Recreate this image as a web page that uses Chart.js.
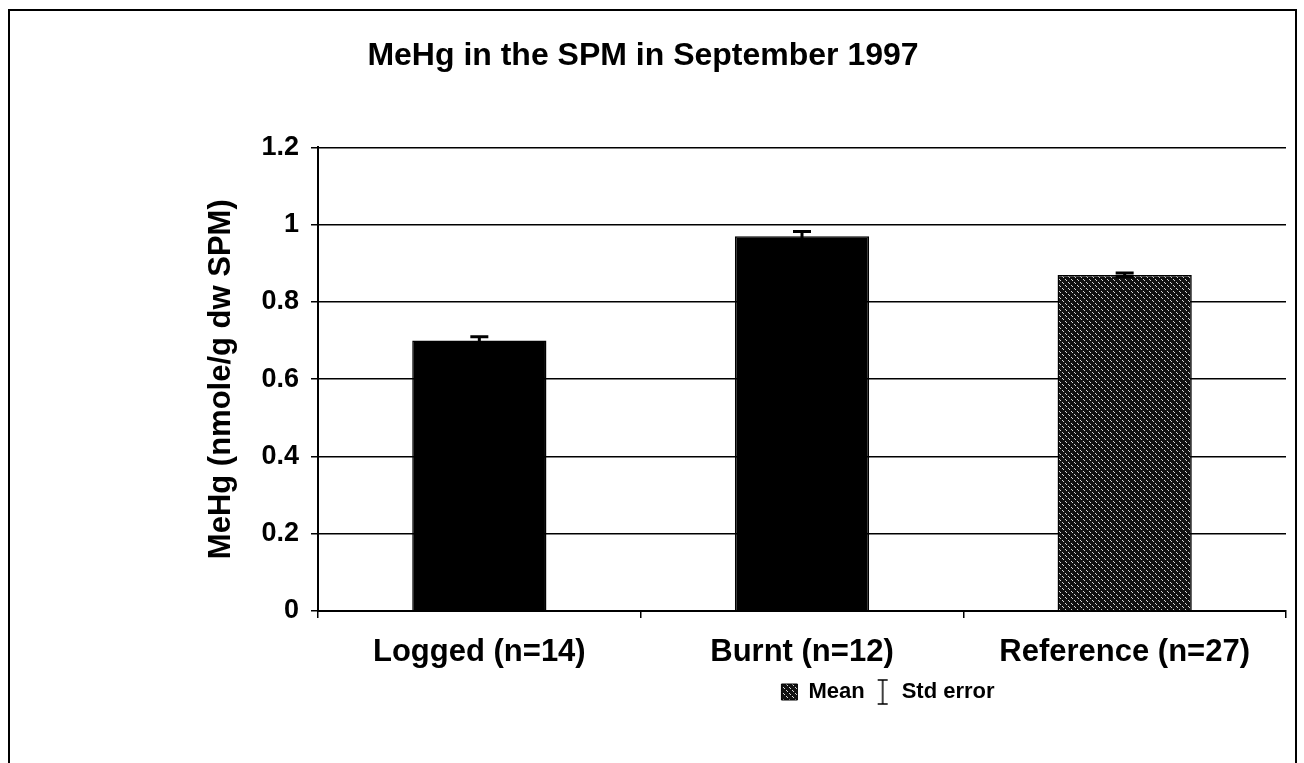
<!DOCTYPE html>
<html>
<head>
<meta charset="utf-8">
<script src="https://cdn.jsdelivr.net/npm/chart.js@4.4.1/dist/chart.umd.min.js"></script>
<style>
  html, body { margin: 0; padding: 0; background: #fff; }
  #wrap { width: 1304px; height: 763px; }
</style>
</head>
<body>
<div id="wrap"><canvas id="myChart" width="1304" height="763"></canvas></div>
<script>
/*==== data ====*/
const categories = ['Logged (n=14)', 'Burnt (n=12)', 'Reference (n=27)'];
const meanValues = [0.70, 0.97, 0.87];
const stdErrors = [0.010, 0.012, 0.005];
const yTicks = [0, 0.2, 0.4, 0.6, 0.8, 1, 1.2];

const FONT = "'Liberation Sans', Arial, sans-serif";

// stippled fill for the reference bar
function makeStipple() {
    const c = document.createElement('canvas');
    c.width = 6; c.height = 6;
    const g = c.getContext('2d');
    g.fillStyle = '#111';
    g.fillRect(0, 0, 6, 6);
    g.fillStyle = '#d8d8d8';
    g.fillRect(0, 0, 1, 1);
    g.fillRect(1, 1, 1, 1);
    g.fillRect(3, 3, 1, 1);
    g.fillRect(4, 4, 1, 1);
    return document.getElementById('myChart').getContext('2d').createPattern(c, 'repeat');
}
const stipple = makeStipple();

// little I-beam icon for the "Std error" legend entry
function makeIbeam() {
    const c = document.createElement('canvas');
    c.width = 12; c.height = 26;
    const g = c.getContext('2d');
    g.strokeStyle = '#000';
    g.lineWidth = 1.5;
    g.beginPath();
    g.moveTo(6, 1); g.lineTo(6, 25);
    g.moveTo(1, 1); g.lineTo(11, 1);
    g.moveTo(1, 25); g.lineTo(11, 25);
    g.stroke();
    return c;
}
const ibeam = makeIbeam();

/*==== plugins ====*/
const errorBars = {
    id: 'errorBars',
    afterDatasetsDraw(chart) {
        const ctx = chart.ctx;
        const y = chart.scales.y;
        const meta = chart.getDatasetMeta(0);
        ctx.save();
        ctx.strokeStyle = '#000';
        ctx.lineWidth = 3;
        meta.data.forEach((bar, i) => {
            const top = y.getPixelForValue(meanValues[i] + stdErrors[i]);
            const bot = y.getPixelForValue(meanValues[i] - stdErrors[i]);
            ctx.beginPath();
            ctx.moveTo(bar.x, top); ctx.lineTo(bar.x, bot);
            ctx.moveTo(bar.x - 9, top); ctx.lineTo(bar.x + 9, top);
            ctx.moveTo(bar.x - 9, bot); ctx.lineTo(bar.x + 9, bot);
            ctx.stroke();
        });
        ctx.restore();
    }
};

const frame = {
    id: 'frame',
    beforeDraw(chart) {
        const ctx = chart.ctx;
        ctx.save();
        ctx.fillStyle = '#fff';
        ctx.fillRect(0, 0, chart.width, chart.height);
        ctx.strokeStyle = '#000';
        ctx.lineWidth = 2;
        ctx.strokeRect(9, 10, 1287, 770);
        ctx.restore();
    }
};

// the legend sits under the right part of the plot, not the page centre
const legendShift = {
    id: 'legendShift',
    afterLayout(chart) {
        const lg = chart.legend;
        if (lg) { lg.left += 245; lg.right += 245; }
    }
};

/*==== config ====*/
const config = {
    type: 'bar',
    data: {
        labels: categories,
        datasets: [{
            label: 'Mean',
            data: meanValues,
            backgroundColor: ['#000', '#000', stipple],
            borderColor: '#000',
            borderWidth: 1.5,
            categoryPercentage: 1,
            barPercentage: 0.416
        }]
    },
    options: {
        responsive: false,
        animation: false,
        layout: { padding: { left: 0, right: 18, top: 0, bottom: 50 } },
        plugins: {
            title: {
                display: true,
                text: 'MeHg in the SPM in September 1997',
                color: '#000',
                font: { family: FONT, size: 32, weight: 'bold' },
                padding: { top: 37, bottom: 72 }
            },
            legend: {
                position: 'bottom',
                align: 'center',
                labels: {
                    usePointStyle: true,
                    color: '#000',
                    font: { family: FONT, size: 22, weight: 'bold' },
                    padding: 10,
                    boxWidth: 16,
                    boxHeight: 16,
                    generateLabels() {
                        return [
                            { text: 'Mean', fillStyle: stipple, strokeStyle: '#000', lineWidth: 1, pointStyle: 'rect', datasetIndex: 0 },
                            { text: 'Std error', fillStyle: 'rgba(0,0,0,0)', strokeStyle: 'rgba(0,0,0,0)', lineWidth: 0, pointStyle: ibeam }
                        ];
                    }
                },
                onClick() {}
            },
            tooltip: { enabled: false }
        },
        scales: {
            x: {
                afterFit(scale) { scale.height = 60; },
                grid: {
                    offset: true,
                    drawOnChartArea: false,
                    drawTicks: true,
                    tickLength: 7,
                    color: '#000',
                    lineWidth: 1.5
                },
                border: { display: true, color: '#000', width: 2 },
                ticks: {
                    color: '#000',
                    padding: 16,
                    font: { family: FONT, size: 31, weight: 'bold' }
                }
            },
            y: {
                min: 0,
                max: 1.2,
                afterFit(scale) { scale.width = 318; },
                afterBuildTicks(scale) { scale.ticks = yTicks.map(v => ({ value: v })); },
                grid: {
                    color: '#000',
                    lineWidth: 1.5,
                    tickLength: 7
                },
                border: { display: true, color: '#000', width: 2 },
                ticks: {
                    color: '#000',
                    padding: 12,
                    font: { family: FONT, size: 27, weight: 'bold' },
                    callback: v => String(v)
                },
                title: {
                    display: true,
                    text: 'MeHg (nmole/g dw SPM)',
                    color: '#000',
                    font: { family: FONT, size: 31, weight: 'bold' },
                    padding: { top: 203, bottom: 0 }
                }
            }
        }
    },
    plugins: [frame, legendShift, errorBars]
};

/*===== render =====*/
const myChart = new Chart(document.getElementById('myChart'), config);
</script>
</body>
</html>
